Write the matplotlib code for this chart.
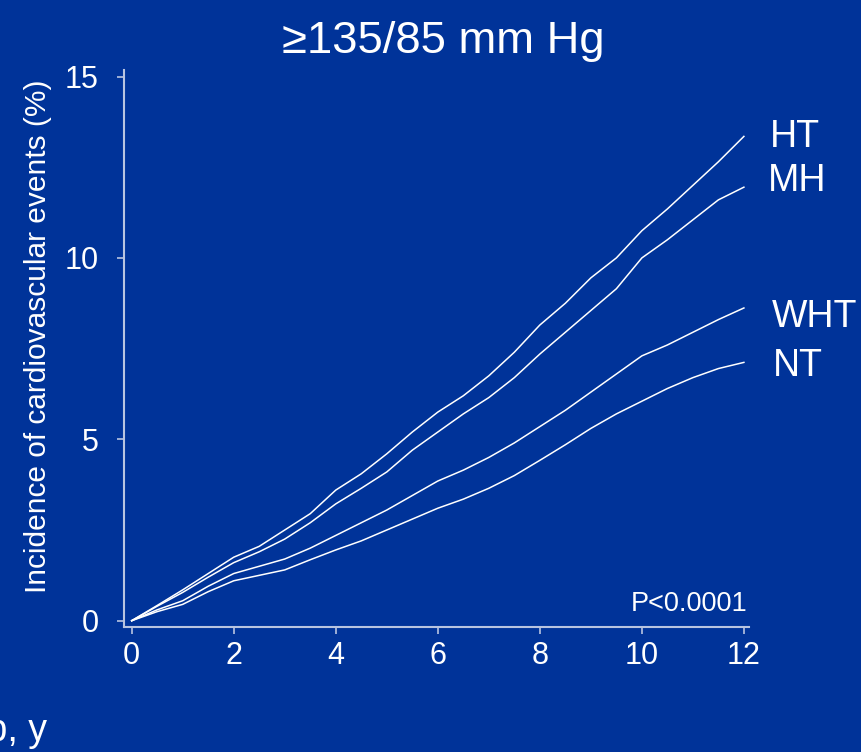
import matplotlib
matplotlib.use("Agg")
import matplotlib.pyplot as plt

plt.rcParams['font.family'] = ['Liberation Sans', 'DejaVu Sans']

# follow-up years (read every half year)
years = [0, 0.5, 1, 1.5, 2, 2.5, 3, 3.5, 4, 4.5, 5, 5.5, 6, 6.5, 7, 7.5, 8, 8.5,
         9, 9.5, 10, 10.5, 11, 11.5, 12]

# cumulative incidence (%)
ht = [0, 0.42, 0.85, 1.3, 1.75, 2.05, 2.5, 2.95, 3.6, 4.05, 4.6, 5.2, 5.75, 6.2,
      6.75, 7.4, 8.15, 8.75, 9.45, 10.0, 10.75, 11.35, 12.0, 12.65, 13.35]
mh = [0, 0.4, 0.78, 1.2, 1.6, 1.9, 2.25, 2.7, 3.22, 3.65, 4.1, 4.7, 5.2, 5.7,
      6.15, 6.7, 7.35, 7.95, 8.55, 9.15, 10.0, 10.5, 11.05, 11.6, 11.95]
wht = [0, 0.3, 0.55, 0.95, 1.3, 1.5, 1.7, 2.0, 2.35, 2.7, 3.05, 3.45, 3.85, 4.15,
       4.5, 4.9, 5.35, 5.8, 6.3, 6.8, 7.3, 7.6, 7.95, 8.3, 8.62]
nt = [0, 0.25, 0.45, 0.8, 1.1, 1.25, 1.4, 1.68, 1.95, 2.2, 2.5, 2.8, 3.1, 3.35,
      3.65, 4.0, 4.42, 4.85, 5.3, 5.7, 6.05, 6.4, 6.7, 6.95, 7.12]

groups = ["HT", "MH", "WHT", "NT"]
label_pos = [(770, 147), (768, 191), (772, 327), (773, 376)]  # pixels

bg = '#003399'
axis_col = '#b8c4e0'

fig = plt.figure(figsize=(8.62, 7.52), dpi=100, facecolor=bg)
W, H = 862, 752
ax = fig.add_axes([124 / W, 1 - 627 / H, 625 / W, 557 / H])
ax.set_facecolor(bg)

for series in [ht, mh, wht, nt]:
    ax.plot(years, series, color='white', lw=1.1)

ax.set_xlim(-0.151, 12.1)
ax.set_ylim(-0.174, 15.18)
ax.set_xticks([0, 2, 4, 6, 8, 10, 12])
ax.set_yticks([0, 5, 10, 15])

for s in ['top', 'right']:
    ax.spines[s].set_visible(False)
for s in ['left', 'bottom']:
    ax.spines[s].set_color(axis_col)
    ax.spines[s].set_linewidth(1.5)

ax.tick_params(axis='both', colors=axis_col, labelcolor='white', length=5,
               width=1.2, labelsize=22)
ax.tick_params(axis='y', pad=13)
ax.tick_params(axis='x', pad=5)

fig.text(443 / W, 1 - 53 / H, '\u2265135/85 mm Hg', color='white', fontsize=32.7,
         ha='center', va='baseline')
fig.text(38 / W, 1 - 336 / H, 'Incidence of cardiovascular events (%)',
         color='white', fontsize=21.5, rotation=90, ha='center', va='center')
fig.text(748 / W, 1 - 611 / H, 'P<0.0001', color='white', fontsize=19.5,
         ha='right', va='baseline')
fig.text(47 / W, 1 - 741 / H, 'Follow-up, y', color='white', fontsize=27,
         ha='right', va='baseline')

for name, (px, py) in zip(groups, label_pos):
    fig.text(px / W, 1 - py / H, name, color='white', fontsize=27,
             ha='left', va='baseline')

fig.savefig('out.png', dpi=100, facecolor=bg)
